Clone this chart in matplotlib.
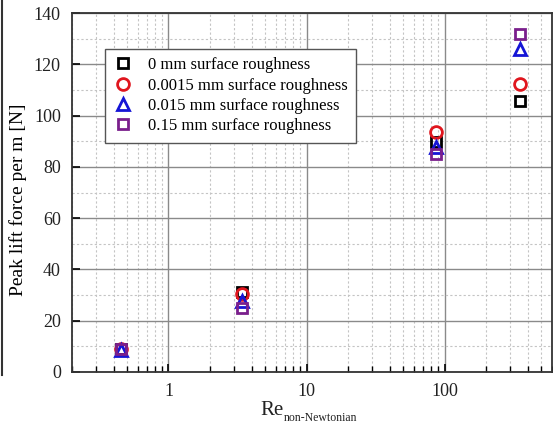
import matplotlib
matplotlib.use("Agg")
import matplotlib.pyplot as plt
from matplotlib.ticker import LogLocator, FixedLocator, NullFormatter, FuncFormatter
from matplotlib.lines import Line2D

re_values = [0.45, 3.4, 86, 350]
labels = ["0 mm surface roughness", "0.0015 mm surface roughness",
          "0.015 mm surface roughness", "0.15 mm surface roughness"]
lift_0 = [9.0, 31.3, 89.8, 105.8]
lift_00015 = [9.0, 30.6, 93.6, 112.5]
lift_0015 = [8.6, 27.8, 87.6, 125.9]
lift_015 = [9.0, 24.8, 85.2, 131.8]
series = [lift_0, lift_00015, lift_0015, lift_015]
colors = ["#000000", "#e0161e", "#1515d6", "#7a1f8c"]
markers = ["s", "o", "^", "s"]
msizes = [7, 8.5, 9, 7]

plt.rcParams["font.family"] = ["Liberation Serif", "DejaVu Serif"]

fig = plt.figure(figsize=(5.53, 4.30), dpi=100)
ax = fig.add_axes([72/553, 1 - 372/430, (552-72)/553, (372-13)/430])

for y, c, m, ms, lab in zip(series, colors, markers, msizes, labels):
    ax.plot(re_values, y, linestyle="none", marker=m, markersize=ms,
            markerfacecolor="none", markeredgecolor=c, markeredgewidth=2, label=lab)

ax.set_xscale("log")
ax.set_xlim(0.2, 600)
ax.set_ylim(0, 140)
ax.set_yticks(range(0, 141, 20))
ax.yaxis.set_minor_locator(FixedLocator(range(10, 140, 20)))
ax.xaxis.set_major_locator(FixedLocator([1, 10, 100]))
ax.xaxis.set_minor_locator(LogLocator(base=10, subs=range(2, 10)))
ax.xaxis.set_major_formatter(FuncFormatter(lambda v, p: f"{v:g}"))
ax.xaxis.set_minor_formatter(NullFormatter())

ax.grid(which="major", color="#8a8a8a", linewidth=1.0, linestyle="-")
ax.grid(which="minor", color="#c4c4c4", linewidth=0.8, linestyle=(0, (2, 2)))
ax.set_axisbelow(True)

ax.tick_params(which="both", direction="in", labelsize=13, colors="black")
ax.tick_params(which="major", length=6, width=1.2, pad=8)
ax.tick_params(which="minor", length=4, width=1.0)
ax.tick_params(axis="y", which="minor", length=0)
for t in ax.get_xticklabels() + ax.get_yticklabels():
    t.set_color("#222222")
for s in ax.spines.values():
    s.set_color("#333333")
    s.set_linewidth(1.3)

ax.set_ylabel("Peak lift force per m [N]", fontsize=14)
ax.yaxis.set_label_coords((27 - 72) / 480, 1 - (200 - 13) / 359)

# x label: "Re" with small subscript
fig.text(284/553, 1 - 415/430, "Re", fontsize=15, ha="right", va="baseline", color="#222222")
fig.text(284/553, 1 - 421/430, "non-Newtonian", fontsize=8.5, ha="left", va="baseline",
         color="#222222")

leg = ax.legend(loc="upper left", bbox_to_anchor=(0.068, 0.9), fontsize=12,
                frameon=True, fancybox=False, edgecolor="#555555", framealpha=1,
                handletextpad=0.9, borderpad=0.5, labelspacing=0.26, handlelength=1.2,
                borderaxespad=0)
leg.get_frame().set_linewidth(1.0)

fig.add_artist(Line2D([2/553, 2/553], [1 - 375/430, 1.0], color="#333333", linewidth=1.5))

fig.savefig("out.png", dpi=100)
